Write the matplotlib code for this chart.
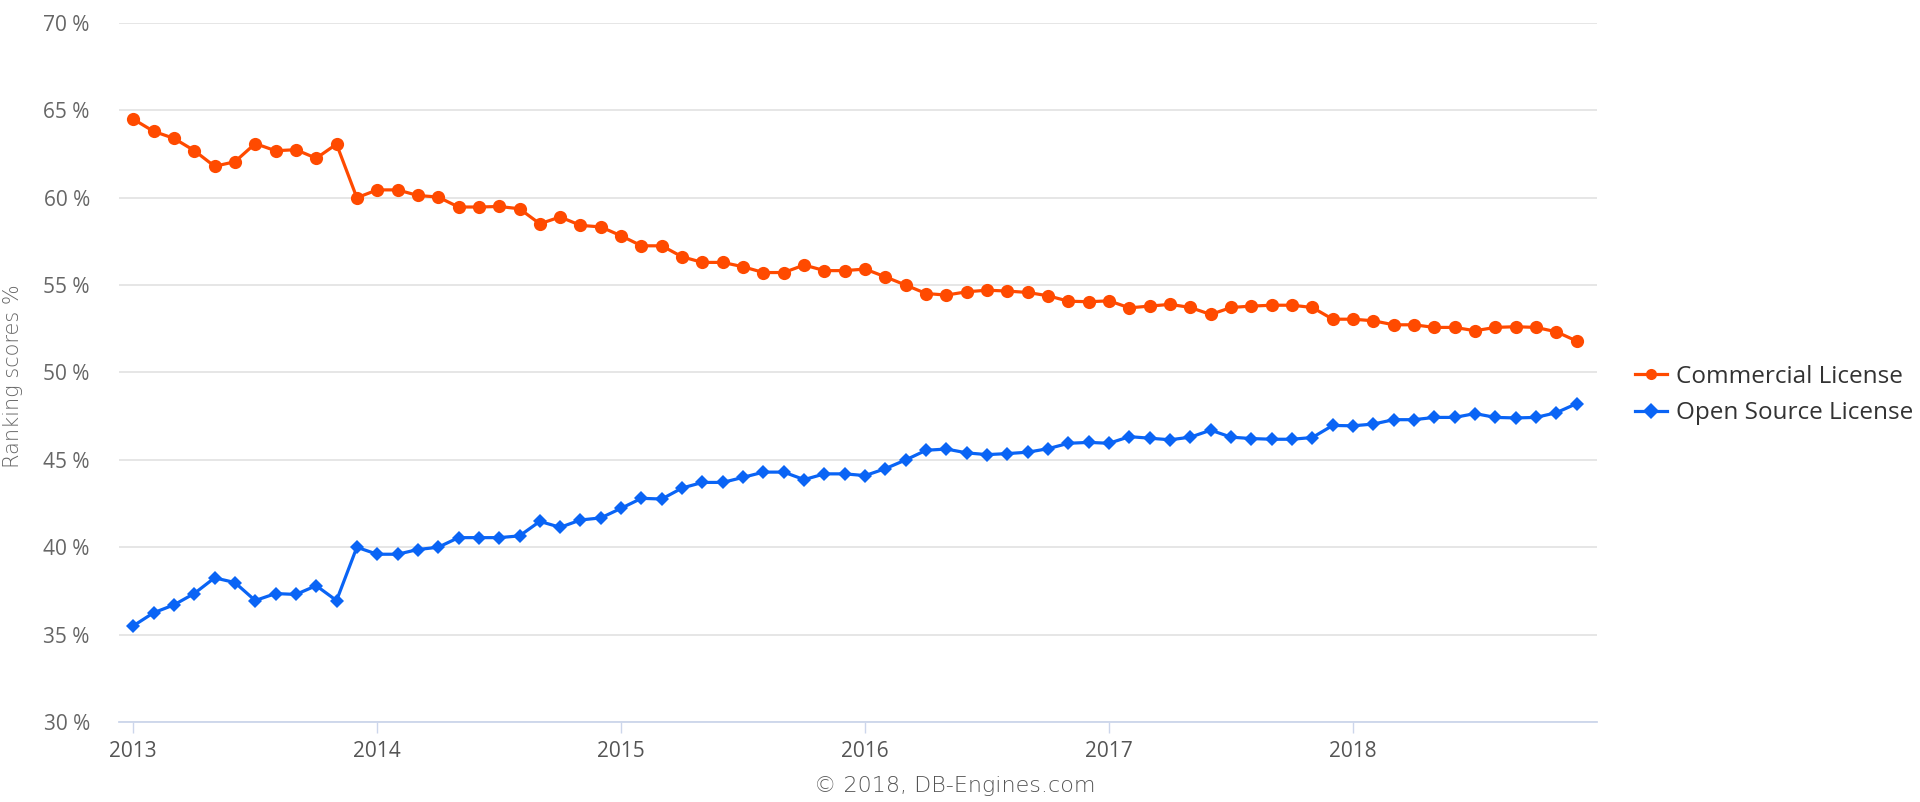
import matplotlib
matplotlib.use("Agg")
import matplotlib.pyplot as plt
import numpy as np

plt.rcParams['font.family'] = ['Open Sans', 'DejaVu Sans']

years = ['2013', '2014', '2015', '2016', '2017', '2018']
series_names = ['Commercial License', 'Open Source License']

commercial = [
    64.5, 63.8, 63.4, 62.7, 61.8, 62.06, 63.1, 62.69, 62.75, 62.26, 63.07, 60.0,
    60.45, 60.45, 60.13, 60.04, 59.47, 59.47, 59.5, 59.37, 58.51, 58.9, 58.42, 58.33,
    57.82, 57.25, 57.25, 56.62, 56.3, 56.3, 56.05, 55.72, 55.72, 56.15, 55.83, 55.83,
    55.92, 55.47, 55.0, 54.52, 54.43, 54.62, 54.71, 54.66, 54.58, 54.39, 54.08, 54.05,
    54.1, 53.7, 53.8, 53.9, 53.72, 53.32, 53.72, 53.8, 53.85, 53.85, 53.72, 53.05,
    53.05, 52.96, 52.73, 52.73, 52.58, 52.58, 52.39, 52.58, 52.62, 52.58, 52.33, 51.8,
]
open_source = [
    35.5, 36.25, 36.7, 37.35, 38.25, 37.98, 36.95, 37.35, 37.3, 37.8, 36.95, 40.0,
    39.6, 39.6, 39.87, 40.0, 40.55, 40.55, 40.55, 40.65, 41.48, 41.14, 41.56, 41.68,
    42.23, 42.8, 42.76, 43.39, 43.71, 43.71, 44.0, 44.3, 44.3, 43.87, 44.2, 44.2,
    44.1, 44.5, 45.0, 45.55, 45.62, 45.4, 45.3, 45.36, 45.44, 45.64, 45.95, 46.0,
    45.95, 46.33, 46.24, 46.15, 46.3, 46.7, 46.3, 46.22, 46.18, 46.18, 46.28, 46.97,
    46.95, 47.05, 47.3, 47.3, 47.43, 47.43, 47.65, 47.43, 47.4, 47.43, 47.7, 48.22,
]

months = np.arange(len(commercial))

W, H = 1920, 802
fig = plt.figure(figsize=(W / 100, H / 100), dpi=100)
ax = fig.add_axes([119 / W, 1 - 722 / H, (1597 - 119) / W, (722 - 23) / H])

c_col = '#ff4a00'
o_col = '#0a64f5'

l1, = ax.plot(months, commercial, color=c_col, lw=2.3, marker='o', markersize=9.5,
              markeredgewidth=0, zorder=3, label=series_names[0])
l2, = ax.plot(months, open_source, color=o_col, lw=2.3, marker='D', markersize=7,
              markeredgewidth=0, zorder=3, label=series_names[1])

ax.set_xlim(-0.7, 72.0)
ax.set_ylim(30, 70)
ax.set_yticks(np.arange(30, 71, 5))
ax.set_yticklabels([f'{v} %' for v in range(30, 71, 5)])
ax.set_xticks(np.arange(len(years)) * 12)
ax.set_xticklabels(years)

ax.grid(axis='y', color='#e2e2e2', lw=1.2)
ax.set_axisbelow(True)
for s in ['top', 'right', 'left']:
    ax.spines[s].set_visible(False)
ax.spines['bottom'].set_color('#ccd6eb')
ax.spines['bottom'].set_linewidth(1.3)
ax.tick_params(axis='y', length=0, pad=21, labelsize=15, labelcolor='#666666')
ax.tick_params(axis='x', length=8, width=1, color='#ccd6eb', pad=6,
               labelsize=15, labelcolor='#555555')

fig.text(3 / W, 1 - 376 / H, 'Ranking scores %', rotation=90, ha='left', va='center',
         fontsize=15, color='#666666', family=['DejaVu Sans'], fontweight='light')
fig.text(955 / W, 1 - 786 / H, '\u00a9 2018, DB-Engines.com', ha='center', va='center',
         fontsize=16, color='#555555', family=['DejaVu Sans'], fontweight='light')

leg = fig.legend(handles=[l1, l2], loc='center left', bbox_to_anchor=(1635 / W, 1 - 395 / H),
                 frameon=False, fontsize=17.5, handlelength=1.3, handletextpad=0.4,
                 labelspacing=0.5, labelcolor='#333333', borderpad=0, borderaxespad=0)
for h in leg.legend_handles:
    h.set_markersize(8)

fig.savefig('out.png', dpi=100)
